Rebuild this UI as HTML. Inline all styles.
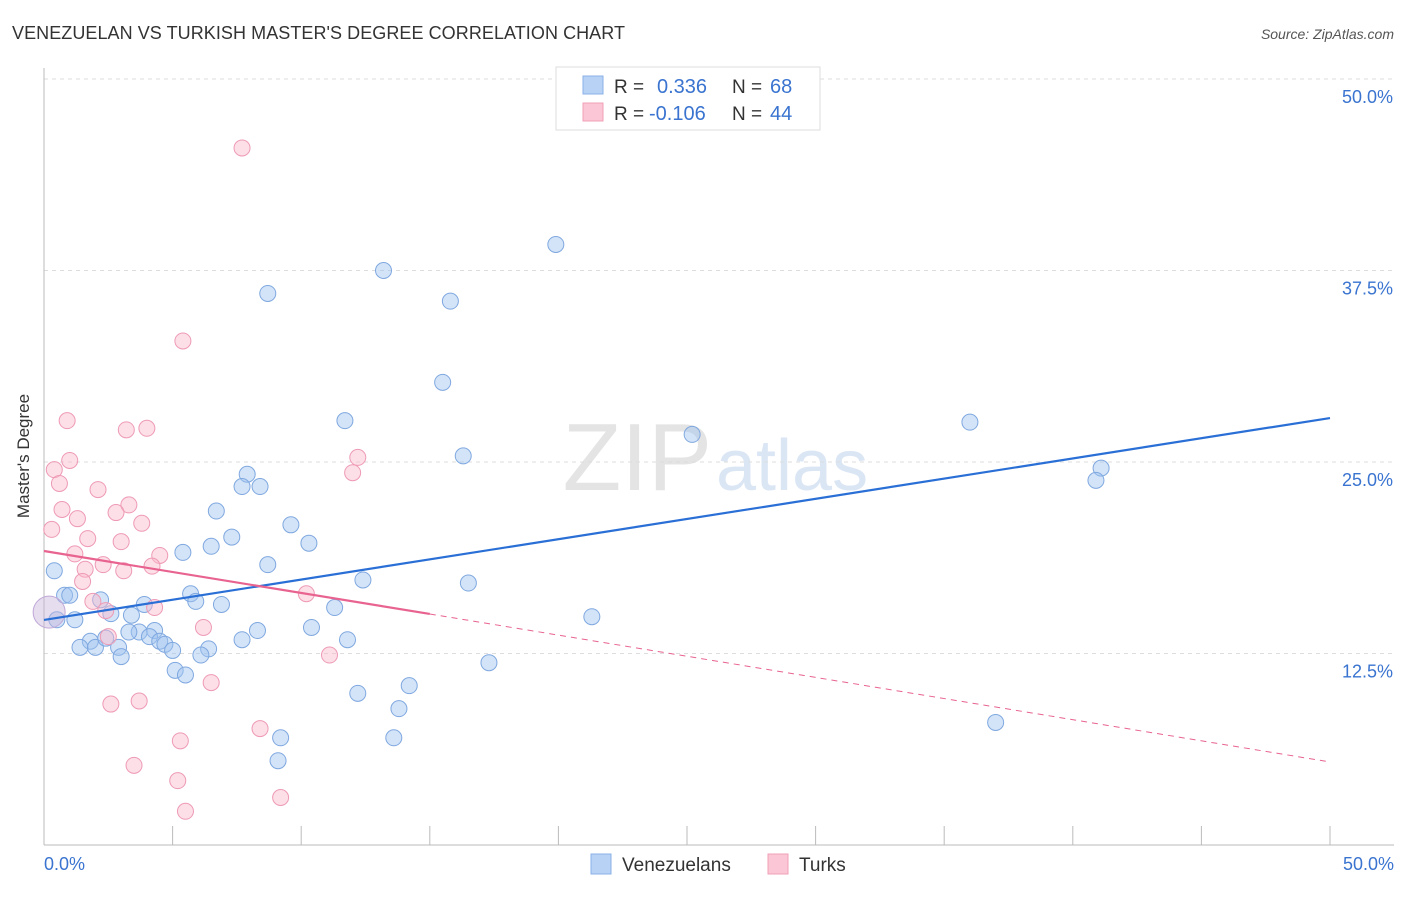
<!DOCTYPE html>
<html><head><meta charset="utf-8"><style>
body{margin:0;background:#fff;font-family:"Liberation Sans",sans-serif}
svg text{font-family:"Liberation Sans",sans-serif}
</style></head><body>
<svg id="chart" width="1406" height="892" xmlns="http://www.w3.org/2000/svg">
<text x="12" y="39" font-size="18" fill="#333" textLength="613">VENEZUELAN VS TURKISH MASTER'S DEGREE CORRELATION CHART</text>
<text x="1394" y="39" font-size="14" fill="#555" font-style="italic" text-anchor="end">Source: ZipAtlas.com</text>
<text x="712" y="490" font-size="96" fill="#e4e4e4" text-anchor="end" font-family="Liberation Serif">ZIP</text>
<text x="716" y="490" font-size="72" fill="#dbe6f5">atlas</text>
<g id="grid"></g><g id="axes"></g><g id="marks"></g>
<text x="29" y="456" font-size="17" fill="#333" text-anchor="middle" transform="rotate(-90 29 456)">Master's Degree</text>
<text x="44" y="870" font-size="18" fill="#3a74d0">0.0%</text>
<text x="1394" y="870" font-size="18" fill="#3a74d0" text-anchor="end">50.0%</text>
<g>
<rect x="556" y="67" width="264" height="63" fill="#fff" stroke="#ddd"/>
<rect x="583" y="76" width="20" height="18" fill="#b8d2f5" stroke="#8ab0e8"/>
<rect x="583" y="103" width="20" height="18" fill="#fbc6d5" stroke="#f0a0b8"/>
<text x="614" y="93" font-size="19" fill="#333">R = </text><text x="657" y="93" font-size="20" fill="#3a74d0">0.336</text>
<text x="732" y="93" font-size="19" fill="#333">N = </text><text x="770" y="93" font-size="20" fill="#3a74d0">68</text>
<text x="614" y="120" font-size="19" fill="#333">R = </text><text x="649" y="120" font-size="20" fill="#3a74d0">-0.106</text>
<text x="732" y="120" font-size="19" fill="#333">N = </text><text x="770" y="120" font-size="20" fill="#3a74d0">44</text>
</g>
<g>
<rect x="591" y="854" width="20" height="20" fill="#b8d2f5" stroke="#8ab0e8"/>
<text x="622" y="871" font-size="19" fill="#333">Venezuelans</text>
<rect x="768" y="854" width="20" height="20" fill="#fbc6d5" stroke="#f0a0b8"/>
<text x="799" y="871" font-size="19" fill="#333">Turks</text>
</g>
</svg>
<script>
const yTicks=[12.5,25,37.5,50];
const yTickLabels=["12.5%","25.0%","37.5%","50.0%"];
const xTicks=[0,5,10,15,20,25,30,35,40,45,50];
const blueX=[19.9,13.2,8.7,15.8,15.5,11.7,16.3,25.2,36.0,41.1,40.9,7.9,7.7,8.4,6.7,9.6,7.3,6.5,10.3,5.4,8.7,0.4,12.4,16.5,21.3,5.7,5.9,6.9,3.9,11.3,2.2,0.8,1.0,0.5,1.2,2.6,3.4,3.7,4.3,3.3,4.1,4.5,4.7,5.0,1.8,1.4,2.0,2.9,2.4,3.0,6.4,6.1,5.1,5.5,7.7,8.3,10.4,11.8,17.3,12.2,14.2,13.8,13.6,9.2,9.1,37.0];
const blueY=[39.2,37.5,36.0,35.5,30.2,27.7,25.4,26.8,27.6,24.6,23.8,24.2,23.4,23.4,21.8,20.9,20.1,19.5,19.7,19.1,18.3,17.9,17.3,17.1,14.9,16.4,15.9,15.7,15.7,15.5,16.0,16.3,16.3,14.7,14.7,15.1,15.0,13.9,14.0,13.9,13.6,13.3,13.1,12.7,13.3,12.9,12.9,12.9,13.5,12.3,12.8,12.4,11.4,11.1,13.4,14.0,14.2,13.4,11.9,9.9,10.4,8.9,7.0,7.0,5.5,8.0];
const pinkX=[7.7,5.4,0.9,3.2,4.0,12.2,12.0,1.0,0.4,0.6,2.1,3.3,2.8,0.7,1.3,3.8,1.7,3.0,0.3,1.2,4.5,4.2,2.3,1.6,3.1,1.5,10.2,1.9,2.4,4.3,2.5,6.2,11.1,6.5,2.6,3.7,8.4,5.3,3.5,5.2,5.5,9.2];
const pinkY=[45.5,32.9,27.7,27.1,27.2,25.3,24.3,25.1,24.5,23.6,23.2,22.2,21.7,21.9,21.3,21.0,20.0,19.8,20.6,19.0,18.9,18.2,18.3,18.0,17.9,17.2,16.4,15.9,15.3,15.5,13.6,14.2,12.4,10.6,9.2,9.4,7.6,6.8,5.2,4.2,2.2,3.1];
const bigPoint=[0.2,15.2];
const blueTrend=[[0,14.69],[50,27.87]];
const pinkTrend=[[0,19.19],[15,15.08],[50,5.42]];
const X=v=>44+v*25.72, Y=v=>845-v*15.32;
const NS="http://www.w3.org/2000/svg";
function mk(t,a,p){const e=document.createElementNS(NS,t);for(const k in a)e.setAttribute(k,a[k]);document.getElementById(p).appendChild(e);return e;}
yTicks.forEach((t,i)=>{
 const g=mk('line',{x1:44,x2:1394,y1:Y(t),y2:Y(t),stroke:'#ddd','stroke-dasharray':'4,4'},'grid');
 
 
 const l=mk('text',{x:1393,y:Y(t)+24,'font-size':18,fill:'#3a74d0','text-anchor':'end'},'grid');
 l.textContent=yTickLabels[i];
 
 
});
const ax=mk('line',{x1:44,x2:44,y1:68,y2:845,stroke:'#bbb'},'axes');


const bx=mk('line',{x1:44,x2:1394,y1:845,y2:845,stroke:'#bbb'},'axes');


xTicks.forEach(t=>{
 const tk=mk('line',{x1:X(t),x2:X(t),y1:826,y2:845,stroke:'#bbb'},'axes');
 
 
});
blueX.forEach((v,i)=>{
 const c=mk('circle',{cx:X(v),cy:Y(blueY[i]),r:8,fill:'rgba(160,195,240,0.45)',stroke:'#7fa8e0','stroke-width':1},'marks');
 
 
});
pinkX.forEach((v,i)=>{
 const c=mk('circle',{cx:X(v),cy:Y(pinkY[i]),r:8,fill:'rgba(250,185,205,0.45)',stroke:'#ee9ab5','stroke-width':1},'marks');
 
 
});
const bp=mk('circle',{cx:X(bigPoint[0]),cy:Y(bigPoint[1]),r:16,fill:'rgba(200,180,220,0.45)',stroke:'#c0a8d8'},'marks');


const bl=mk('line',{x1:X(blueTrend[0][0]),y1:Y(blueTrend[0][1]),x2:X(blueTrend[1][0]),y2:Y(blueTrend[1][1]),stroke:'#2a6fd6','stroke-width':2.2},'marks');


const pl=mk('line',{x1:X(pinkTrend[0][0]),y1:Y(pinkTrend[0][1]),x2:X(pinkTrend[1][0]),y2:Y(pinkTrend[1][1]),stroke:'#e8638f','stroke-width':2.2},'marks');


const pd=mk('line',{x1:X(pinkTrend[1][0]),y1:Y(pinkTrend[1][1]),x2:X(pinkTrend[2][0]),y2:Y(pinkTrend[2][1]),stroke:'#e8638f','stroke-width':1,'stroke-dasharray':'6,5'},'marks');


</script>
</body></html>
